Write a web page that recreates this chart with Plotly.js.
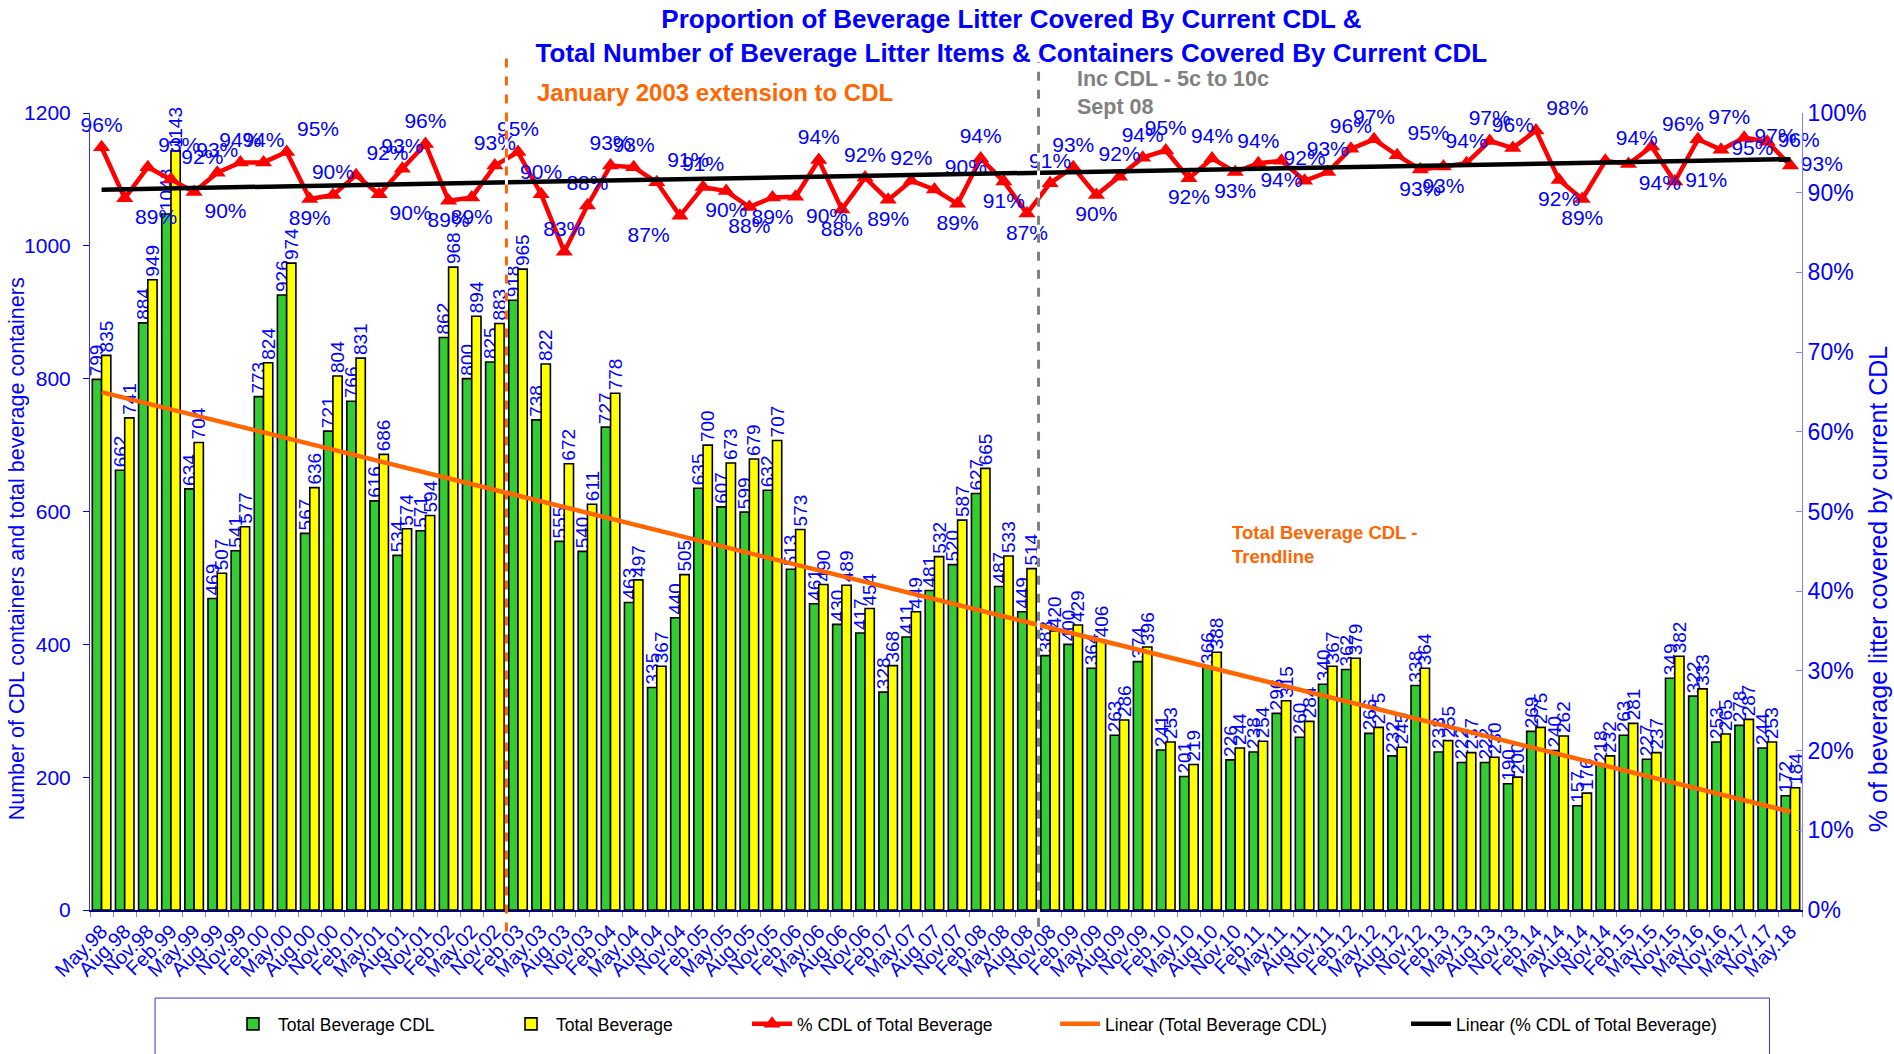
<!DOCTYPE html>
<html>
<head>
<meta charset="utf-8">
<script src="https://cdn.plot.ly/plotly-3.0.1.min.js"></script>
<style>
html,body{margin:0;padding:0;background:#fff;}
#chart{width:1894px;height:1054px;}
</style>
</head>
<body>
<div id="chart"></div>
<script>
// ---- data ----
const categories = ['May.98','Aug.98','Nov.98','Feb.99','May.99','Aug.99','Nov.99','Feb.00','May.00','Aug.00','Nov.00','Feb.01','May.01','Aug.01','Nov.01','Feb.02','May.02','Nov.02','Feb.03','May.03','Aug.03','Nov.03','Feb.04','May.04','Aug.04','Nov.04','Feb.05','May.05','Aug.05','Nov.05','Feb.06','May.06','Aug.06','Nov.06','Feb.07','May.07','Aug.07','Nov.07','Feb.08','May.08','Aug.08','Nov.08','Feb.09','May.09','Aug.09','Nov.09','Feb.10','May.10','Aug.10','Nov.10','Feb.11','May.11','Aug.11','Nov.11','Feb.12','May.12','Aug.12','Nov.12','Feb.13','May.13','Aug.13','Nov.13','Feb.14','May.14','Aug.14','Nov.14','Feb.15','May.15','Nov.15','May.16','Nov.16','May.17','Nov.17','May.18'];

const totalBeverageCDL = [799,662,884,1048,634,469,541,773,926,567,721,766,616,534,571,862,800,825,918,738,555,540,727,463,335,440,635,607,599,632,513,461,430,417,328,411,481,520,627,487,449,383,400,364,263,374,241,201,366,226,238,296,260,340,362,266,232,338,238,222,222,190,269,240,157,218,263,227,349,322,253,278,244,172];

const totalBeverage = [835,741,949,1143,704,507,577,824,974,636,804,831,686,574,594,968,894,883,965,822,672,611,778,497,367,505,700,673,679,707,573,490,489,454,368,449,532,587,665,533,514,420,429,406,286,396,253,219,388,244,254,315,284,367,379,275,245,364,255,237,230,200,275,262,176,232,281,237,382,333,265,287,253,184];

const pctCDL = [95.7,89.3,93.2,91.7,90.1,92.5,93.8,93.8,95.1,89.2,
 89.7,92.2,89.8,93.0,96.1,89.0,89.4,93.4,95.1,89.8,
 82.6,88.4,93.4,93.2,91.3,87.1,90.7,90.2,88.2,89.4,
 89.5,94.1,87.9,91.9,89.1,91.5,90.4,88.6,94.3,91.4,
 87.4,91.2,93.2,89.7,92.0,94.4,95.3,91.8,94.3,92.6,
 93.7,94.0,91.5,92.6,95.5,96.7,94.7,92.9,93.3,93.7,
 96.5,95.6,97.8,91.6,89.2,94.0,93.6,95.8,91.4,96.7,
 95.4,96.9,96.4,93.4];

// label placement for the % line (layout, not data)
const pctLabelPos = ['top center','bottom right','top right','top right','bottom right','top center','top center','top center','top right','bottom center',
 'top center','top right','bottom right','top center','top center','bottom center','bottom center','top center','top center','top center',
 'top center','top center','top center','top center','top right','bottom left','top center','bottom center','bottom center','bottom center',
 'bottom right','top center','bottom center','top center','bottom center','top center','top right','bottom center','top center','bottom center',
 'bottom center','top center','top center','bottom center','top center','top center','top center','bottom center','top center','bottom center',
 'top center','bottom center','top center','top center','top center','top center','top right','bottom center','bottom center','top center',
 'top center','top center','top right','bottom center','bottom center','top right','bottom right','top right','middle right','top right',
 'middle right','middle right','middle right','middle right'];

// ---- linear trendlines (least squares, like Excel) ----
function linFit(ys){
  const n = ys.length; let sx=0, sy=0, sxy=0, sxx=0;
  for(let i=0;i<n;i++){ const x=i+1; sx+=x; sy+=ys[i]; sxy+=x*ys[i]; sxx+=x*x; }
  const b = (n*sxy - sx*sy)/(n*sxx - sx*sx); const a = (sy - b*sx)/n;
  return [a + b*1, a + b*n];
}
const trendCDL = linFit(totalBeverageCDL);
const trendPct = linFit(pctCDL);
const trendX = [categories[0], categories[categories.length-1]];

const FONT = 'Liberation Sans, Arial, sans-serif';
const BLUE = '#0000FF';

const traces = [
  {type:'bar', name:'Total Beverage CDL', legend:'legend', x:categories, y:totalBeverageCDL,
   marker:{color:'#33CC33', line:{color:'#000000', width:1.6}},
   text: totalBeverageCDL.map(String), textposition:'outside', textangle:-90,
   constraintext:'none', cliponaxis:false,
   textfont:{family:FONT, size:19, color:BLUE}, hoverinfo:'x+y'},
  {type:'bar', name:'Total Beverage', legend:'legend2', x:categories, y:totalBeverage,
   marker:{color:'#FFFF00', line:{color:'#000000', width:1.6}},
   text: totalBeverage.map(String), textposition:'outside', textangle:-90,
   constraintext:'none', cliponaxis:false,
   textfont:{family:FONT, size:19, color:BLUE}, hoverinfo:'x+y'},
  {type:'scatter', mode:'lines+markers+text', name:'% CDL of Total Beverage', legend:'legend3', x:categories, y:pctCDL, yaxis:'y2',
   line:{color:'#FF0000', width:4.5}, marker:{symbol:'triangle-up', size:15, color:'#FF0000'},
   text: pctCDL.map(v => Math.round(v)+'%'), textposition: pctLabelPos,
   textfont:{family:FONT, size:21, color:BLUE}, cliponaxis:false},
  {type:'scatter', mode:'lines', name:'Linear (Total Beverage CDL)', legend:'legend4', x:trendX, y:trendCDL,
   line:{color:'#FF6600', width:4.5}},
  {type:'scatter', mode:'lines', name:'Linear (% CDL of Total Beverage)', legend:'legend5', x:trendX, y:trendPct, yaxis:'y2',
   line:{color:'#000000', width:4.5}}
];

function leg(x){
  return {orientation:'h', x:x, y:-0.143, xanchor:'left', yanchor:'middle',
          bgcolor:'rgba(0,0,0,0)', borderwidth:0, itemwidth:40,
          font:{family:FONT, size:17.5, color:'#000000'}};
}

const layout = {
  width:1894, height:1054,
  margin:{l:90, r:92, t:113, b:140},
  paper_bgcolor:'#FFFFFF', plot_bgcolor:'#FFFFFF',
  font:{family:FONT, color:BLUE},
  barmode:'group', bargap:0.2, bargroupgap:0,
  title:{text:'<b>Proportion of Beverage Litter Covered By Current CDL &amp;<br>Total Number of Beverage Litter Items &amp; Containers Covered By Current CDL</b>',
         font:{family:FONT, size:26, color:BLUE}, x:0.534, xanchor:'center', y:0.9734, yanchor:'top'},
  xaxis:{type:'category', range:[-0.5, categories.length-0.5], tickangle:-45,
         tickmode:'array', tickvals:categories, ticktext:categories,
         tickfont:{family:FONT, size:20, color:BLUE}, ticks:'outside', tickson:'boundaries',
         ticklen:5, tickcolor:'#8080FF', showline:true, linecolor:'#000080', linewidth:1.5,
         showgrid:false, zeroline:false, automargin:false},
  yaxis:{range:[0,1200], dtick:200, ticks:'outside', ticklen:6, tickcolor:'#0000FF',
         showline:true, linecolor:'#3333CC', linewidth:1, showgrid:false, zeroline:false,
         tickfont:{family:FONT, size:21, color:BLUE}, ticklabelstandoff:8,
         automargin:false},
  yaxis2:{overlaying:'y', side:'right', range:[0,100], dtick:10, ticksuffix:'%', ticks:'inside', ticklen:6,
          tickcolor:'#8080FF', showline:true, linecolor:'#8080FF', linewidth:1, showgrid:false, zeroline:false,
          tickfont:{family:FONT, size:23, color:BLUE},
          automargin:false},
  showlegend:true,
  legend:leg(0.0806), legend2:leg(0.2430), legend3:leg(0.3838), legend4:leg(0.5637), legend5:leg(0.7687),
  shapes:[
    {type:'rect', xref:'paper', yref:'paper', x0:0.038, x1:0.981, y0:-0.19, y1:-0.1105,
     line:{color:'#3333CC', width:1}, fillcolor:'rgba(0,0,0,0)', layer:'below'},
    {type:'line', xref:'x', yref:'paper', x0:17.5, x1:17.5, y0:-0.027, y1:1.0755, line:{color:'#FFFFFF', width:3}},
    {type:'line', xref:'x', yref:'paper', x0:17.5, x1:17.5, y0:-0.027, y1:1.0755, line:{color:'#FF6600', width:3, dash:'dash'}},
    {type:'line', xref:'x', yref:'paper', x0:40.5, x1:40.5, y0:-0.021, y1:1.064, line:{color:'#FFFFFF', width:3}},
    {type:'line', xref:'x', yref:'paper', x0:40.5, x1:40.5, y0:-0.021, y1:1.064, line:{color:'#808080', width:3, dash:'dash'}}
  ],
  annotations:[
    {xref:'paper', yref:'paper', x:-0.0426, y:0.4526, xanchor:'center', yanchor:'middle', showarrow:false, textangle:-90,
     text:'Number of CDL containers and total beverage containers', font:{family:FONT, size:21.5, color:BLUE}},
    {xref:'paper', yref:'paper', x:1.0444, y:0.4026, xanchor:'center', yanchor:'middle', showarrow:false, textangle:-90,
     text:'% of beverage litter covered by current CDL', font:{family:FONT, size:25, color:BLUE}},
    {xref:'paper', yref:'paper', x:0.26, y:1.0256, xanchor:'left', yanchor:'middle', showarrow:false,
     text:'<b>January 2003 extension to CDL</b>', font:{family:FONT, size:24, color:'#FF6600'}},
    {xref:'paper', yref:'paper', x:0.5754, y:1.0246, xanchor:'left', yanchor:'middle', showarrow:false, align:'left',
     text:'<b>Inc CDL - 5c to 10c<br>Sept 08</b>', font:{family:FONT, size:21.5, color:'#808080'}},
    {xref:'paper', yref:'paper', x:0.666, y:0.459, xanchor:'left', yanchor:'middle', showarrow:false, align:'left',
     text:'<b>Total Beverage CDL -<br>Trendline</b>', font:{family:FONT, size:18.5, color:'#FF6600'}}
  ]
};

Plotly.newPlot('chart', traces, layout, {displayModeBar:false, responsive:false});
</script>
</body>
</html>
